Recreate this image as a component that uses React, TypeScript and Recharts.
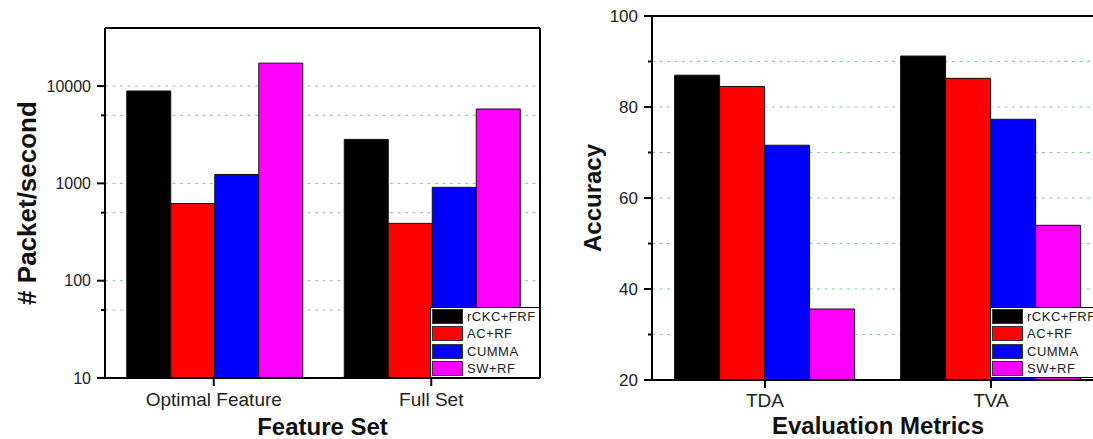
import React from "react";
import { BarChart, Bar, XAxis, YAxis, CartesianGrid, Legend } from "recharts";

const FONT = "'Liberation Sans', Arial, Helvetica, sans-serif";

// series
const seriesNames = ["rCKC+FRF", "AC+RF", "CUMMA", "SW+RF"];
const seriesColors = ["#000000", "#ff0000", "#0000ff", "#ff00ff"];

// left panel: throughput (log scale)
const featureSets = ["Optimal Feature", "Full Set"];
const packetRCKC = [8900, 2830];
const packetAC = [620, 388];
const packetCUMMA = [1235, 910];
const packetSW = [17200, 5810];
const packetTicks = [10, 50, 100, 500, 1000, 5000, 10000];
const packetLabels = [10, 100, 1000, 10000];

// right panel: accuracy
const metrics = ["TDA", "TVA"];
const accRCKC = [87.0, 91.2];
const accAC = [84.5, 86.3];
const accCUMMA = [71.6, 77.3];
const accSW = [35.6, 54.0];
const accTicks = [20, 30, 40, 50, 60, 70, 80, 90, 100];
const accLabels = [20, 40, 60, 80, 100];

const packetData = featureSets.map((name, i) => ({
  name,
  s0: packetRCKC[i],
  s1: packetAC[i],
  s2: packetCUMMA[i],
  s3: packetSW[i],
}));

const accData = metrics.map((name, i) => ({
  name,
  s0: accRCKC[i],
  s1: accAC[i],
  s2: accCUMMA[i],
  s3: accSW[i],
}));

const axisStroke = { stroke: "#000", strokeWidth: 2 };

function makeYTick(axisX: number, labels: number[], fontSize: number) {
  return (props: any) => {
    const { y, payload } = props;
    const major = labels.includes(payload.value);
    return (
      <g>
        <line x1={axisX - (major ? 8 : 4)} x2={axisX} y1={y} y2={y} stroke="#000" strokeWidth={2} />
        {major && (
          <text
            x={axisX - 14}
            y={y}
            dy="0.36em"
            textAnchor="end"
            fontSize={fontSize}
            fill="#222"
            fontFamily={FONT}
          >
            {payload.value}
          </text>
        )}
      </g>
    );
  };
}

// legend drawn in the series order (recharts sorts its payload by name)
function makeLegend(width: number) {
  return () => (
    <div
      style={{
        border: "1px solid #000",
        background: "#fff",
        width,
        boxSizing: "border-box",
        padding: "0 0 0 1px",
      }}
    >
      {seriesNames.map((n, i) => (
        <div key={n} style={{ display: "flex", alignItems: "center", height: 17.3 }}>
          <span
            style={{
              display: "inline-block",
              width: 31,
              height: 15,
              background: seriesColors[i],
              border: "1px solid #333",
              boxSizing: "border-box",
            }}
          />
          <span
            style={{
              marginLeft: 4,
              fontSize: 13,
              letterSpacing: 0.5,
              color: "#222",
              fontFamily: FONT,
              whiteSpace: "nowrap",
              lineHeight: "15px",
            }}
          >
            {n}
          </span>
        </div>
      ))}
    </div>
  );
}

function renderBars() {
  return seriesNames.map((n, i) => (
    <Bar
      key={n}
      dataKey={`s${i}`}
      name={n}
      fill={seriesColors[i]}
      stroke="#111"
      strokeWidth={1}
      isAnimationActive={false}
    />
  ));
}

function PacketChart() {
  return (
    <BarChart
      width={560}
      height={439}
      data={packetData}
      margin={{ top: 27, right: 19, left: 0, bottom: 4 }}
      barGap={0}
      barCategoryGap="10%"
    >
      <CartesianGrid horizontal vertical={false} stroke="#7fd87f" strokeDasharray="3 4.5" />
      <XAxis
        dataKey="name"
        interval={0}
        height={57}
        tickSize={8}
        tickMargin={7}
        axisLine={axisStroke}
        tickLine={axisStroke}
        tick={{ fontSize: 19, fill: "#222", fontFamily: FONT }}
        label={{
          value: "Feature Set",
          position: "insideBottom",
          offset: 0,
          fontSize: 24,
          fontWeight: "bold",
          fill: "#111",
          fontFamily: FONT,
        }}
      />
      <XAxis xAxisId="top" orientation="top" dataKey="name" height={1} tick={false} tickLine={false} axisLine={axisStroke} />
      <YAxis
        scale="log"
        type="number"
        domain={[10, 39500]}
        allowDataOverflow
        ticks={packetTicks}
        interval={0}
        width={105}
        axisLine={axisStroke}
        tickLine={false}
        tick={makeYTick(105, packetLabels, 16)}
        label={{
          value: "# Packet/second",
          angle: -90,
          position: "insideLeft",
          offset: 27,
          fontSize: 26,
          fontWeight: "bold",
          fill: "#111",
          fontFamily: FONT,
          style: { textAnchor: "middle" },
        }}
      />
      <YAxis yAxisId="right" orientation="right" type="number" domain={[0, 1]} width={1} tick={false} tickLine={false} axisLine={axisStroke} />
      <Legend
        layout="horizontal"
        verticalAlign="middle"
        align="center"
        wrapperStyle={{ position: "absolute", left: 430, top: 307, width: 110 }}
        content={makeLegend(110)}
      />
      {renderBars()}
    </BarChart>
  );
}

function AccuracyChart() {
  return (
    <BarChart
      width={560}
      height={439}
      data={accData}
      margin={{ top: 15, right: 15, left: 0, bottom: 2 }}
      barGap={0}
      barCategoryGap="10%"
    >
      <CartesianGrid horizontal vertical={false} stroke="#7fd87f" strokeDasharray="3 4.5" />
      <XAxis
        dataKey="name"
        interval={0}
        height={57}
        tickSize={8}
        tickMargin={6}
        axisLine={axisStroke}
        tickLine={axisStroke}
        tick={{ fontSize: 19, fill: "#222", fontFamily: FONT }}
        label={{
          value: "Evaluation Metrics",
          position: "insideBottom",
          offset: 3,
          fontSize: 24,
          fontWeight: "bold",
          fill: "#111",
          fontFamily: FONT,
        }}
      />
      <XAxis xAxisId="top" orientation="top" dataKey="name" height={1} tick={false} tickLine={false} axisLine={axisStroke} />
      <YAxis
        type="number"
        domain={[20, 100]}
        ticks={accTicks}
        interval={0}
        width={92}
        axisLine={axisStroke}
        tickLine={false}
        tick={makeYTick(92, accLabels, 17)}
        label={{
          value: "Accuracy",
          angle: -90,
          position: "insideLeft",
          offset: 32,
          fontSize: 24,
          fontWeight: "bold",
          fill: "#111",
          fontFamily: FONT,
          style: { textAnchor: "middle" },
        }}
      />
      <YAxis yAxisId="right" orientation="right" type="number" domain={[0, 1]} width={1} tick={false} tickLine={false} axisLine={axisStroke} />
      <Legend
        layout="horizontal"
        verticalAlign="middle"
        align="center"
        wrapperStyle={{ position: "absolute", left: 430, top: 307, width: 130 }}
        content={makeLegend(130)}
      />
      {renderBars()}
    </BarChart>
  );
}

export default function App() {
  return (
    <div
      style={{
        position: "absolute",
        left: 0,
        top: 0,
        width: 1093,
        height: 439,
        overflow: "hidden",
        background: "#fff",
      }}
    >
      <div style={{ position: "absolute", left: 0, top: 0 }}>
        <PacketChart />
      </div>
      <div style={{ position: "absolute", left: 560, top: 0 }}>
        <AccuracyChart />
      </div>
    </div>
  );
}
